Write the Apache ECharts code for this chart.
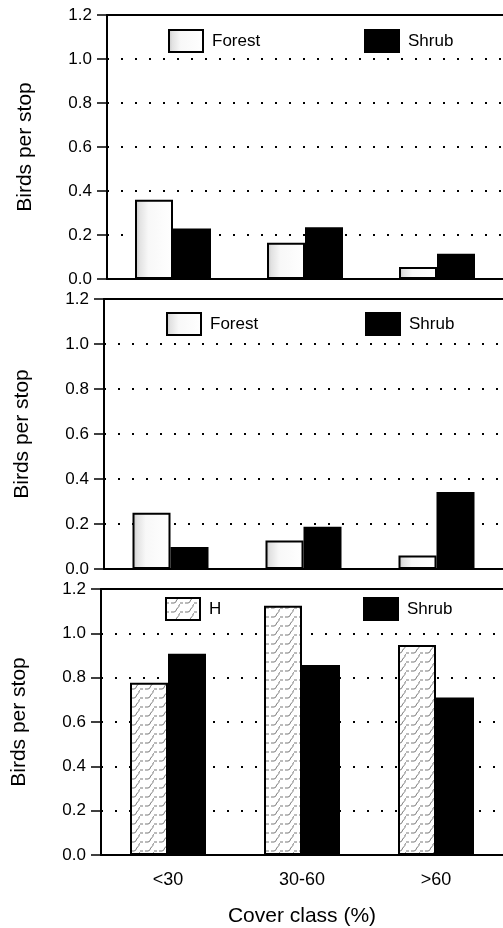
<!DOCTYPE html>
<html><head><meta charset="utf-8">
<script src="https://cdn.jsdelivr.net/npm/echarts@6/dist/echarts.min.js"></script>
<style>html,body{margin:0;padding:0;background:#fff}#c{width:503px;height:928px}</style>
</head><body><div id="c"></div>
<script>
const categories = ['<30', '30-60', '>60'];
const yTickMin = 0, yTickMax = 1.2, yTickStep = 0.2;
const panel1Forest = [0.36, 0.165, 0.055];
const panel1Shrub = [0.23, 0.235, 0.115];
const panel2Forest = [0.25, 0.127, 0.06];
const panel2Shrub = [0.098, 0.188, 0.342];
const panel3H = [0.777, 1.125, 0.947];
const panel3Shrub = [0.908, 0.857, 0.71];

const FONT = "'Liberation Sans', Arial, sans-serif";

function makeHPattern() {
  const c = document.createElement('canvas');
  c.width = 14; c.height = 9;
  const x = c.getContext('2d');
  x.fillStyle = '#fff'; x.fillRect(0, 0, 14, 9);
  x.strokeStyle = '#6a6a6a'; x.lineWidth = 0.9;
  x.setLineDash([3, 2]);
  x.beginPath(); x.moveTo(0, 5); x.lineTo(8, 5); x.stroke();
  x.setLineDash([]);
  x.beginPath(); x.moveTo(8, 5); x.bezierCurveTo(11, 5, 9.5, 1, 12.5, 0.5); x.stroke();
  x.beginPath(); x.moveTo(12.5, 9.5); x.bezierCurveTo(13.5, 8, 12, 7, 14, 6.5); x.stroke();
  return c;
}
const forestFill = {
  type: 'linear', x: 0, y: 0, x2: 1, y2: 0,
  colorStops: [
    { offset: 0, color: '#c4c4c4' },
    { offset: 0.12, color: '#e2e2e2' },
    { offset: 0.35, color: '#f8f8f8' },
    { offset: 1, color: '#ffffff' }
  ]
};
const hFill = { image: makeHPattern(), repeat: 'repeat' };

const grids = [
  { left: 107, top: 15, width: 405, height: 264 },
  { left: 104, top: 299, width: 405, height: 270 },
  { left: 101, top: 589, width: 405, height: 266 }
];

const xAxes = [], yAxes = [];
grids.forEach((g, i) => {
  xAxes.push({
    type: 'category', gridIndex: i, data: categories, position: 'bottom',
    axisLine: { show: true, lineStyle: { color: '#000', width: 2 } },
    axisTick: { show: false },
    axisLabel: { show: i === 2, color: '#000', fontSize: 18, margin: 16, fontFamily: FONT },
    name: i === 2 ? 'Cover class (%)' : '',
    nameLocation: 'middle', nameGap: 51,
    nameTextStyle: { color: '#000', fontSize: 21, fontFamily: FONT }
  });
  xAxes.push({
    type: 'category', gridIndex: i, data: categories, position: 'top',
    axisLine: { show: true, onZero: false, lineStyle: { color: '#000', width: 2 } },
    axisTick: { show: false }, axisLabel: { show: false }
  });
  yAxes.push({
    type: 'value', gridIndex: i, min: yTickMin, max: yTickMax, interval: yTickStep,
    axisLine: { show: true, lineStyle: { color: '#000', width: 2 } },
    axisTick: { show: true, length: 10, lineStyle: { color: '#000', width: 1.5 } },
    axisLabel: { color: '#000', fontSize: 17, margin: 15, fontFamily: FONT,
      formatter: v => v.toFixed(1) },
    splitLine: { show: true, lineStyle: { color: '#000', width: 2, type: [2, 12] } },
    name: 'Birds per stop', nameLocation: 'middle', nameGap: 71,
    nameTextStyle: { color: '#000', fontSize: 21, fontFamily: FONT }
  });
});

function bar(name, data, gi, fill) {
  return {
    type: 'bar', name, data, xAxisIndex: gi * 2, yAxisIndex: gi,
    barWidth: 38, barGap: '0%',
    itemStyle: { color: fill, borderColor: '#000', borderWidth: 2 },
    emphasis: { disabled: true }
  };
}

const legendBase = (name, left, top) => ({
  data: [name], left, top, padding: 0, itemWidth: 34, itemHeight: 22,
  icon: 'rect', selectedMode: false,
  textStyle: { color: '#000', fontSize: 17, fontFamily: FONT, padding: [0, 0, 0, 4] }
});

const chart = echarts.init(document.getElementById('c'), null, { renderer: 'canvas' });
chart.setOption({
  animation: false,
  textStyle: { fontFamily: FONT },
  grid: grids,
  xAxis: xAxes,
  yAxis: yAxes,
  legend: [
    legendBase('Forest', 168, 29), legendBase('Shrub', 364, 29),
    legendBase('Forest', 166, 312), legendBase('Shrub', 365, 312),
    legendBase('H', 165, 597), legendBase('Shrub', 363, 597)
  ],
  series: [
    bar('Forest', panel1Forest, 0, forestFill),
    bar('Shrub', panel1Shrub, 0, '#000'),
    bar('Forest', panel2Forest, 1, forestFill),
    bar('Shrub', panel2Shrub, 1, '#000'),
    bar('H', panel3H, 2, hFill),
    bar('Shrub', panel3Shrub, 2, '#000')
  ]
});
</script></body></html>
